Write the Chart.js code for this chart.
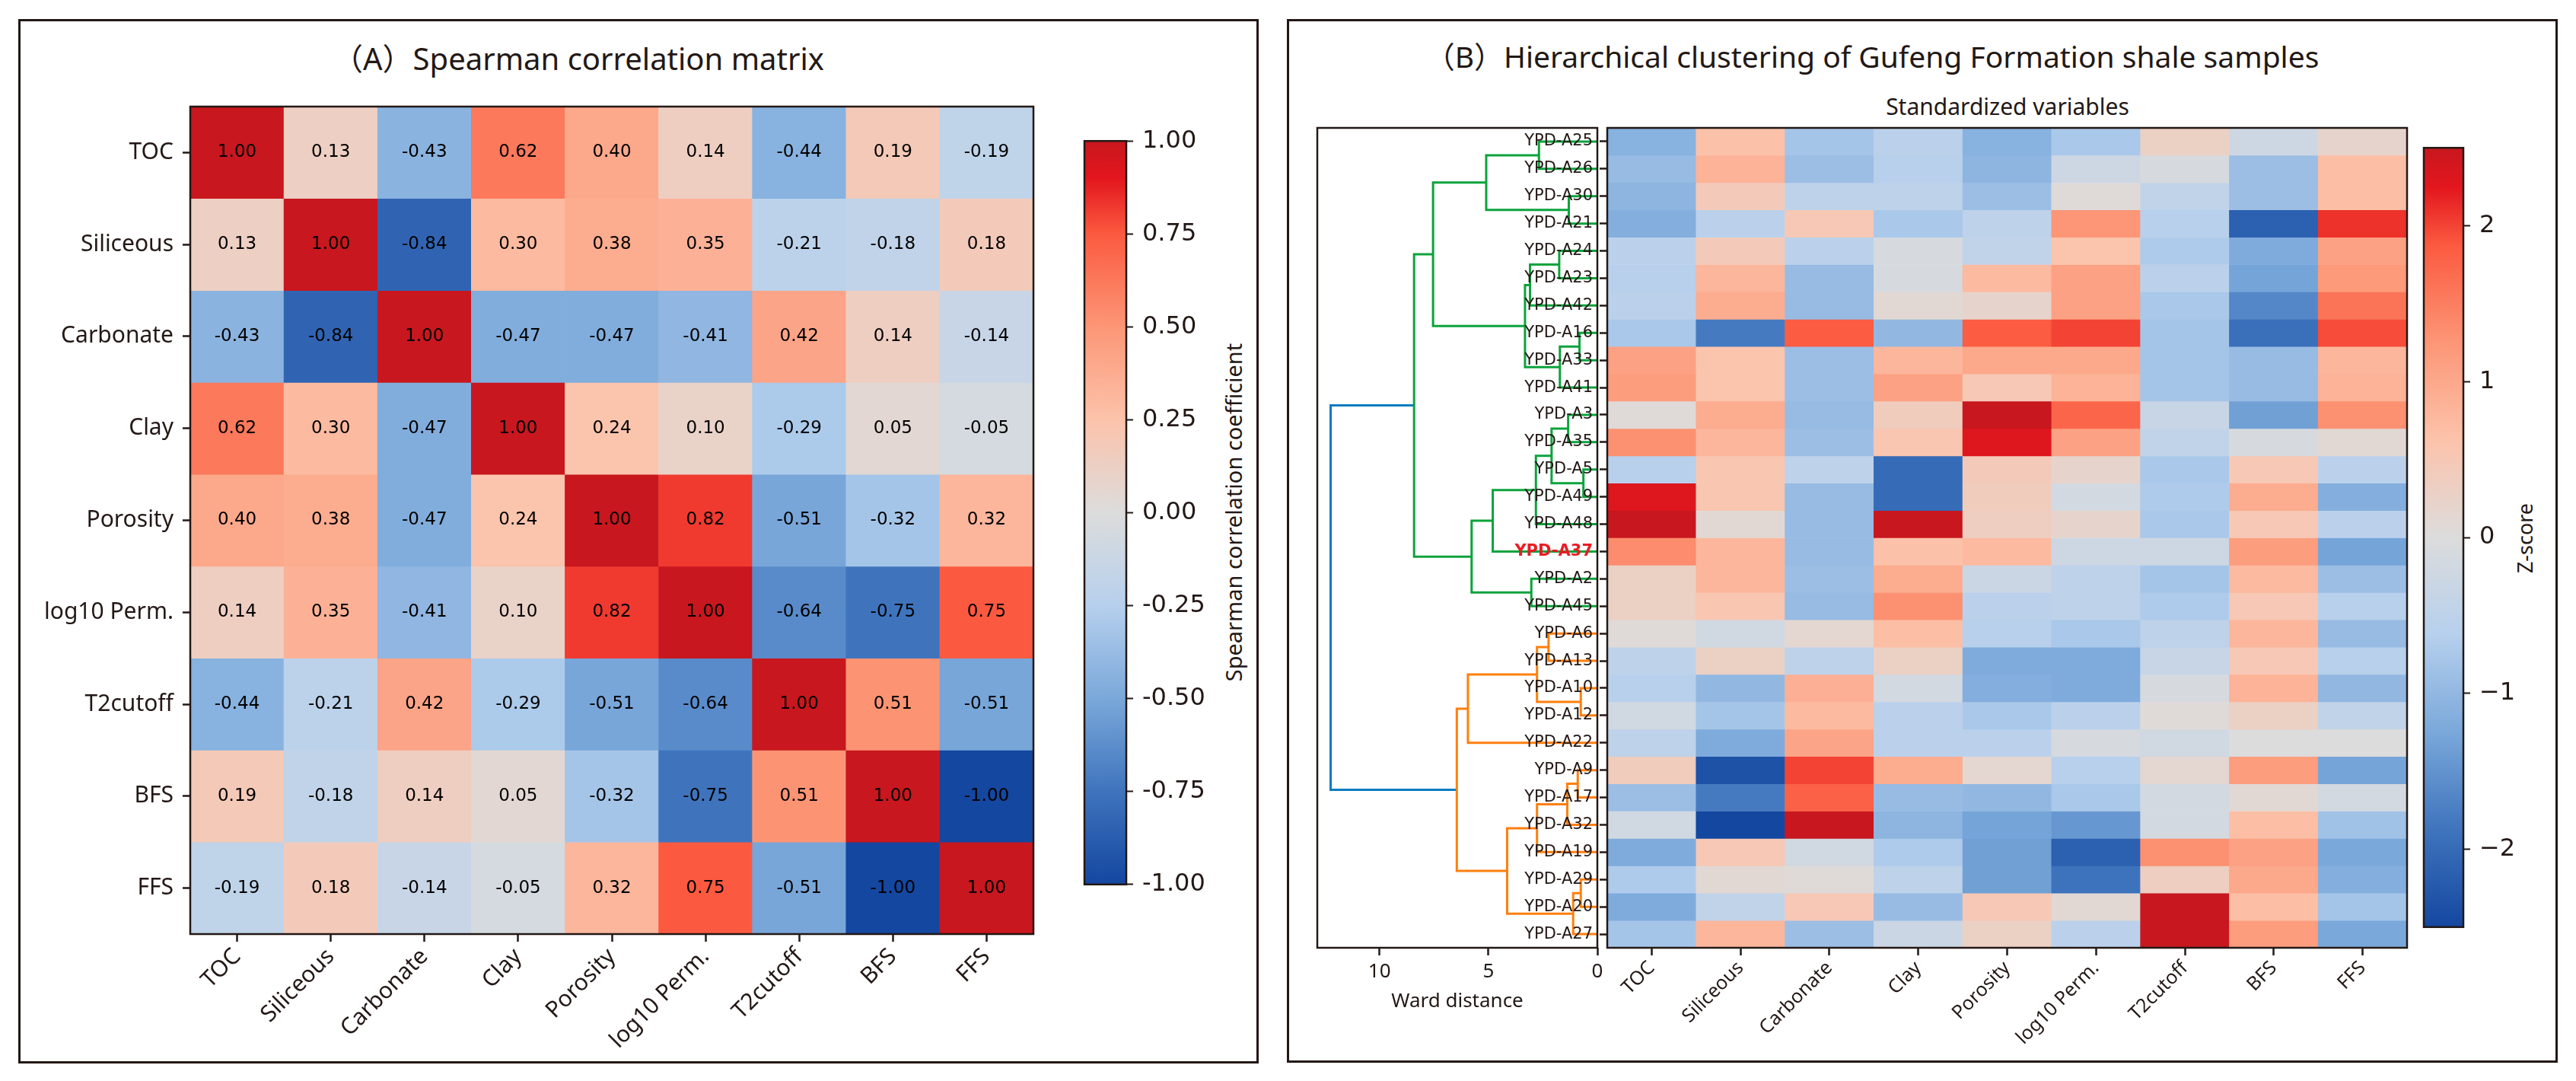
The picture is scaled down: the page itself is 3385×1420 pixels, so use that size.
<!DOCTYPE html>
<html lang="en">
<head>
<meta charset="utf-8">
<title>Spearman correlation matrix and hierarchical clustering</title>
<script src="https://cdn.jsdelivr.net/npm/chart.js@4.4.1/dist/chart.umd.min.js"></script>
<style>
  html, body { margin: 0; padding: 0; background: #fff; }
  body { position: relative; width: 3385px; height: 1420px; overflow: hidden;
         font-family: "Noto Sans", "Noto Sans CJK SC", sans-serif; color: #231815; }
  .frame { position: absolute; box-sizing: border-box; border: 3px solid #231815; }
  .box { position: absolute; }
  .label { position: absolute; white-space: nowrap; line-height: 1; transform: translate(-50%, -50%); }
  .label.vertical { transform: translate(-50%, -50%) rotate(-90deg); }
</style>
</head>
<body>

<div class="frame" style="left:24px;top:25px;width:1630px;height:1372px"></div>
<div class="frame" style="left:1691px;top:25px;width:1670px;height:1371px"></div>

<div class="label" style="left:760px;top:77px;font-size:40px">（A）Spearman correlation matrix</div>
<div class="label" style="left:2460px;top:73px;font-size:39px">（B）Hierarchical clustering of Gufeng Formation shale samples</div>
<div class="label" style="left:2638px;top:140px;font-size:30px">Standardized variables</div>
<div class="label vertical" style="left:1620px;top:673px;font-size:29px">Spearman correlation coefficient</div>
<div class="label vertical" style="left:3317px;top:707px;font-size:27px">Z-score</div>

<div class="box" style="left:40px;top:110px;width:1322px;height:1280px"><canvas id="chart-corr"></canvas></div>
<div class="box" style="left:1415px;top:154px;width:189px;height:1039px"><canvas id="chart-corr-bar"></canvas></div>
<div class="box" style="left:1711px;top:143px;width:408px;height:1188px;z-index:1"><canvas id="chart-dendro"></canvas></div>
<div class="box" style="left:1720px;top:143px;width:1449px;height:1247px;z-index:2"><canvas id="chart-zscore"></canvas></div>
<div class="box" style="left:3175px;top:163px;width:136px;height:1086px"><canvas id="chart-zscore-bar"></canvas></div>

<script>
// ═══════════════════════════════════════
// DATA
// ═══════════════════════════════════════
const corrVars = ['TOC', 'Siliceous', 'Carbonate', 'Clay', 'Porosity', 'log10 Perm.', 'T2cutoff', 'BFS', 'FFS'];
const corrMatrix = [
  [ 1.00,  0.13, -0.43,  0.62,  0.40,  0.14, -0.44,  0.19, -0.19],
  [ 0.13,  1.00, -0.84,  0.30,  0.38,  0.35, -0.21, -0.18,  0.18],
  [-0.43, -0.84,  1.00, -0.47, -0.47, -0.41,  0.42,  0.14, -0.14],
  [ 0.62,  0.30, -0.47,  1.00,  0.24,  0.10, -0.29,  0.05, -0.05],
  [ 0.40,  0.38, -0.47,  0.24,  1.00,  0.82, -0.51, -0.32,  0.32],
  [ 0.14,  0.35, -0.41,  0.10,  0.82,  1.00, -0.64, -0.75,  0.75],
  [-0.44, -0.21,  0.42, -0.29, -0.51, -0.64,  1.00,  0.51, -0.51],
  [ 0.19, -0.18,  0.14,  0.05, -0.32, -0.75,  0.51,  1.00, -1.00],
  [-0.19,  0.18, -0.14, -0.05,  0.32,  0.75, -0.51, -1.00,  1.00]
];
const corrTicks = [-1, -0.75, -0.5, -0.25, 0, 0.25, 0.5, 0.75, 1];

// samples in dendrogram leaf order, top to bottom
const samples = [
  'YPD-A25', 'YPD-A26', 'YPD-A30', 'YPD-A21', 'YPD-A24', 'YPD-A23', 'YPD-A42', 'YPD-A16',
  'YPD-A33', 'YPD-A41', 'YPD-A3', 'YPD-A35', 'YPD-A5', 'YPD-A49', 'YPD-A48', 'YPD-A37',
  'YPD-A2', 'YPD-A45', 'YPD-A6', 'YPD-A13', 'YPD-A10', 'YPD-A12', 'YPD-A22', 'YPD-A9',
  'YPD-A17', 'YPD-A32', 'YPD-A19', 'YPD-A29', 'YPD-A20', 'YPD-A27'
];
const highlightSample = 'YPD-A37';

// z-scores, one row per sample, columns as corrVars
const zScores = [
  [-1.10,  0.65, -0.80, -0.55, -1.10, -0.75,  0.30, -0.25,  0.20],
  [-0.95,  0.85, -0.90, -0.60, -1.05, -0.25, -0.10, -0.90,  0.70],
  [-1.05,  0.45, -0.50, -0.50, -0.90,  0.05, -0.45, -0.90,  0.70],
  [-1.15, -0.55,  0.50, -0.75, -0.50,  1.25, -0.60, -2.15,  2.10],
  [-0.55,  0.45, -0.55, -0.10, -0.45,  0.60, -0.70, -1.20,  1.10],
  [-0.60,  0.80, -0.95, -0.10,  0.75,  1.10, -0.55, -1.30,  1.20],
  [-0.55,  0.95, -0.95,  0.10,  0.20,  1.10, -0.75, -1.65,  1.60],
  [-0.75, -1.80,  1.85, -1.00,  1.85,  2.00, -0.80, -1.95,  1.95],
  [ 1.10,  0.60, -0.90,  0.80,  1.00,  1.00, -0.80, -0.95,  0.80],
  [ 1.15,  0.60, -0.90,  1.10,  0.50,  0.85, -0.80, -0.95,  0.85],
  [ 0.05,  0.95, -0.95,  0.40,  2.60,  1.75, -0.35, -1.35,  1.30],
  [ 1.30,  0.80, -0.90,  0.55,  2.30,  1.10, -0.45, -0.10,  0.10],
  [-0.60,  0.55, -0.50, -2.00,  0.45,  0.20, -0.75,  0.50, -0.55],
  [ 2.30,  0.55, -0.95, -2.00,  0.40, -0.15, -0.70,  0.95, -1.15],
  [ 2.55,  0.10, -0.95,  2.55,  0.35,  0.20, -0.75,  0.50, -0.55],
  [ 1.35,  0.80, -0.95,  0.65,  0.75, -0.25, -0.25,  1.15, -1.30],
  [ 0.30,  0.80, -0.90,  0.95, -0.30, -0.50, -0.80,  0.75, -0.90],
  [ 0.30,  0.55, -0.95,  1.30, -0.55, -0.50, -0.70,  0.50, -0.60],
  [ 0.05, -0.20,  0.15,  0.70, -0.60, -0.75, -0.50,  0.80, -0.95],
  [-0.50,  0.30, -0.50,  0.30, -1.20, -1.20, -0.35,  0.50, -0.60],
  [-0.60, -1.00,  0.90, -0.15, -1.15, -1.20, -0.10,  0.85, -1.00],
  [-0.20, -0.80,  0.75, -0.55, -0.75, -0.55,  0.05,  0.30, -0.45],
  [-0.50, -1.20,  1.05, -0.55, -0.55, -0.10, -0.20,  0.00,  0.00],
  [ 0.40, -2.35,  2.00,  0.95,  0.15, -0.60,  0.15,  1.15, -1.30],
  [-0.90, -1.80,  1.80, -0.95, -1.00, -0.75, -0.15,  0.10, -0.15],
  [-0.20, -2.55,  2.55, -1.05, -1.30, -1.45, -0.15,  0.70, -0.85],
  [-1.20,  0.50, -0.20, -0.70, -1.35, -2.15,  1.30,  1.10, -1.25],
  [-0.70,  0.10,  0.05, -0.50, -1.35, -1.90,  0.35,  1.00, -1.15],
  [-1.20, -0.45,  0.50, -0.95,  0.50,  0.10,  2.60,  0.70, -0.80],
  [-0.80,  0.80, -0.90, -0.30,  0.30, -0.55,  2.60,  1.15, -1.25]
];
const zTicks = [-2, -1, 0, 1, 2];

// Ward linkage: [child, child, merge distance]; merge k is referred to as 'm' + k
const merges = [
  ['YPD-A25', 'YPD-A26', 2.68],
  ['YPD-A30', 'YPD-A21', 1.31],
  ['m0', 'm1', 5.10],
  ['YPD-A24', 'YPD-A23', 1.75],
  ['m3', 'YPD-A42', 3.09],
  ['YPD-A16', 'YPD-A33', 0.82],
  ['m5', 'YPD-A41', 1.72],
  ['m4', 'm6', 3.32],
  ['m2', 'm7', 7.54],
  ['YPD-A3', 'YPD-A35', 1.34],
  ['YPD-A5', 'YPD-A49', 0.64],
  ['m9', 'm10', 2.10],
  ['m11', 'YPD-A48', 2.82],
  ['m12', 'YPD-A37', 4.80],
  ['YPD-A2', 'YPD-A45', 3.03],
  ['m13', 'm14', 5.77],
  ['m8', 'm15', 8.41],
  ['YPD-A6', 'YPD-A13', 2.24],
  ['YPD-A10', 'YPD-A12', 0.76],
  ['m17', 'm18', 2.77],
  ['m19', 'YPD-A22', 5.94],
  ['YPD-A9', 'YPD-A17', 0.90],
  ['m21', 'YPD-A32', 1.38],
  ['m22', 'YPD-A19', 2.77],
  ['YPD-A29', 'YPD-A20', 0.76],
  ['m24', 'YPD-A27', 1.11],
  ['m23', 'm25', 4.14],
  ['m20', 'm26', 6.45],
  ['m16', 'm27', 12.24]
];
const wardTicks = [0, 5, 10];

// ═══════════════════════════════════════
// STYLE
// ═══════════════════════════════════════
const INK = '#231815';
const HIGHLIGHT = '#ea1c24';
const CLUSTER_COLOURS = ['#ff7f0e', '#0ca33c'];
const ABOVE_COLOUR = '#0a7bbf';
const SCALE_STOPS = [
  [0.000, '#1447a0'], [0.125, '#3f74bd'], [0.250, '#7aa8da'], [0.375, '#b6d0ed'],
  [0.500, '#dcdcdc'], [0.625, '#fcc3ab'], [0.750, '#fc9676'], [0.875, '#fb5a40'],
  [0.950, '#e3161d'], [1.000, '#c8171e']
];

Chart.defaults.font.family = '"Noto Sans", "Noto Sans CJK SC", sans-serif';
Chart.defaults.color = INK;

// ═══════════════════════════════════════
// UTILITIES
// ═══════════════════════════════════════
function lerp(a, b, t) { return a + (b - a) * t; }
function hexToRgb(h) { const n = parseInt(h.slice(1), 16); return [n >> 16, (n >> 8) & 255, n & 255]; }
const STOP_RGB = SCALE_STOPS.map(([t, c]) => [t, hexToRgb(c)]);

function colourAt(t) {
  t = Math.min(1, Math.max(0, t));
  for (let i = 1; i < STOP_RGB.length; i++) {
    const [t1, c1] = STOP_RGB[i];
    if (t <= t1) {
      const [t0, c0] = STOP_RGB[i - 1];
      const f = (t - t0) / (t1 - t0);
      const c = c0.map((v, k) => Math.round(lerp(v, c1[k], f)));
      return `rgb(${c[0]},${c[1]},${c[2]})`;
    }
  }
  return SCALE_STOPS[SCALE_STOPS.length - 1][1];
}

const tickGrid = { drawOnChartArea: false, offset: false, tickLength: 10, tickWidth: 2.5, tickColor: INK };

// box round the plot area (all four spines)
const framePlugin = {
  id: 'frame',
  afterDraw(chart) {
    const { ctx, chartArea: a } = chart;
    ctx.save();
    ctx.strokeStyle = INK;
    ctx.lineWidth = 2.5;
    ctx.strokeRect(a.left, a.top, a.right - a.left, a.bottom - a.top);
    ctx.restore();
  }
};

// numbers printed in the correlation cells
const cellValuePlugin = {
  id: 'cellValues',
  afterDatasetsDraw(chart) {
    const { ctx } = chart;
    ctx.save();
    ctx.font = '23px "DejaVu Sans"';
    ctx.fillStyle = '#000';
    ctx.textAlign = 'center';
    ctx.textBaseline = 'middle';
    chart.data.datasets.forEach((ds, i) => {
      chart.getDatasetMeta(i).data.forEach((bar, j) => {
        const { x, y, base } = bar.getProps(['x', 'y', 'base'], true);
        ctx.fillText(corrMatrix[i][j].toFixed(2), x, (y + base) / 2);
      });
    });
    ctx.restore();
  }
};

// ═══════════════════════════════════════
// HEATMAP (floating bars, one dataset per row)
// ═══════════════════════════════════════
function heatmap(canvasId, cfg) {
  const { rows, cols, values, vmin, vmax, yWidth, xHeight, padding, xFont, yFont, yColor, yPad, extra } = cfg;
  return new Chart(document.getElementById(canvasId), {
    type: 'bar',
    data: {
      labels: cols,
      datasets: rows.map((r, i) => ({
        label: r,
        data: cols.map(() => [i, i + 1]),
        backgroundColor: values[i].map(v => colourAt((v - vmin) / (vmax - vmin))),
        borderWidth: 0,
        barPercentage: 1,
        categoryPercentage: 1,
        grouped: false
      }))
    },
    options: {
      animation: false,
      responsive: true,
      maintainAspectRatio: false,
      events: [],
      layout: { padding },
      plugins: { legend: { display: false }, tooltip: { enabled: false } },
      scales: {
        x: {
          grid: tickGrid,
          border: { display: false },
          ticks: { autoSkip: false, minRotation: 45, maxRotation: 45, padding: 2, font: xFont, color: INK },
          afterFit: s => { s.height = xHeight; }
        },
        y: {
          min: 0,
          max: rows.length,
          reverse: true,
          afterBuildTicks: s => { s.ticks = rows.map((_, i) => ({ value: i + 0.5 })); },
          grid: tickGrid,
          border: { display: false },
          ticks: { autoSkip: false, padding: yPad, font: yFont, color: yColor || INK, callback: (v, i) => rows[i] },
          afterFit: s => { s.width = yWidth; }
        }
      }
    },
    plugins: [framePlugin].concat(extra || [])
  });
}

// ═══════════════════════════════════════
// COLOURBAR (one floating bar with a gradient)
// ═══════════════════════════════════════
function colourbar(canvasId, vmin, vmax, ticks, fmt, yWidth) {
  return new Chart(document.getElementById(canvasId), {
    type: 'bar',
    data: {
      labels: [''],
      datasets: [{
        data: [[vmin, vmax]],
        borderWidth: 0,
        barPercentage: 1,
        categoryPercentage: 1,
        backgroundColor: ctx => {
          const chart = ctx.chart;
          const y = chart.scales.y;
          if (!chart.chartArea || !y) return INK;
          const g = chart.ctx.createLinearGradient(0, y.getPixelForValue(vmin), 0, y.getPixelForValue(vmax));
          SCALE_STOPS.forEach(([t, c]) => g.addColorStop(t, c));
          return g;
        }
      }]
    },
    options: {
      animation: false,
      responsive: true,
      maintainAspectRatio: false,
      events: [],
      layout: { padding: { left: 10, right: 4, top: 25, bottom: 25 } },
      plugins: { legend: { display: false }, tooltip: { enabled: false } },
      scales: {
        x: { display: false },
        y: {
          position: 'right',
          min: vmin,
          max: vmax,
          afterBuildTicks: s => { s.ticks = ticks.map(v => ({ value: v })); },
          grid: { drawOnChartArea: false, tickLength: 9, tickWidth: 2, tickColor: INK },
          border: { display: false },
          ticks: { padding: 12, font: { family: '"DejaVu Sans"', size: 32 }, color: INK, callback: fmt },
          afterFit: s => { s.width = yWidth; }
        }
      }
    },
    plugins: [framePlugin]
  });
}

// ═══════════════════════════════════════
// DENDROGRAM
// ═══════════════════════════════════════
function buildLinks() {
  const nodes = {};
  samples.forEach((s, i) => { nodes[s] = { y: i + 0.5, h: 0 }; });
  const links = merges.map(([a, b, h], k) => {
    const A = nodes[a], B = nodes[b];
    nodes['m' + k] = { y: (A.y + B.y) / 2, h, kids: [a, b], link: k };
    return {
      pts: [{ x: A.h, y: A.y }, { x: h, y: A.y }, { x: h, y: B.y }, { x: B.h, y: B.y }],
      colour: ABOVE_COLOUR
    };
  });
  const maxH = Math.max(...merges.map(m => m[2]));
  const threshold = 0.7 * maxH;
  let next = 0;
  // colour each cluster below the threshold, bottom cluster first
  (function paint(id, colour) {
    const n = nodes[id];
    if (!n.kids) return;
    if (!colour && n.h <= threshold) colour = CLUSTER_COLOURS[next++ % CLUSTER_COLOURS.length];
    links[n.link].colour = colour || ABOVE_COLOUR;
    n.kids.slice().reverse().forEach(k => paint(k, colour));
  })('m' + (merges.length - 1), null);
  return { links, maxH };
}

function dendrogram(canvasId) {
  const { links, maxH } = buildLinks();
  return new Chart(document.getElementById(canvasId), {
    type: 'scatter',
    data: {
      datasets: links.map(l => ({
        data: l.pts,
        showLine: true,
        borderColor: l.colour,
        borderWidth: 3,
        pointRadius: 0,
        fill: false,
        tension: 0
      }))
    },
    options: {
      animation: false,
      responsive: true,
      maintainAspectRatio: false,
      events: [],
      layout: { padding: { left: 20, right: 20, top: 25, bottom: 0 } },
      plugins: { legend: { display: false }, tooltip: { enabled: false } },
      scales: {
        x: {
          type: 'linear',
          min: 0,
          max: maxH * 1.05,
          reverse: true,
          afterBuildTicks: s => { s.ticks = wardTicks.map(v => ({ value: v })); },
          grid: tickGrid,
          border: { display: false },
          ticks: { padding: 6, font: { size: 26 }, color: INK },
          title: { display: true, text: 'Ward distance', font: { size: 26 }, color: INK, padding: 0 },
          afterFit: s => { s.height = 86; }
        },
        y: { type: 'linear', min: 0, max: samples.length, reverse: true, display: false }
      }
    },
    plugins: [framePlugin]
  });
}

// ═══════════════════════════════════════
// INIT
// ═══════════════════════════════════════
heatmap('chart-corr', {
  rows: corrVars, cols: corrVars, values: corrMatrix, vmin: -1, vmax: 1,
  yWidth: 210, xHeight: 163,
  padding: { left: 0, right: 4, top: 10, bottom: 0 },
  xFont: { size: 30 }, yFont: { size: 30 }, yPad: 12,
  extra: [cellValuePlugin]
});
colourbar('chart-corr-bar', -1, 1, corrTicks, v => v.toFixed(2), 120);

dendrogram('chart-dendro');
heatmap('chart-zscore', {
  rows: samples, cols: corrVars, values: zScores, vmin: -2.5, vmax: 2.5,
  yWidth: 392, xHeight: 145,
  padding: { left: 0, right: 6, top: 25, bottom: 0 },
  xFont: { size: 25 },
  yFont: ctx => ({ family: '"DejaVu Sans"', size: 21, weight: samples[ctx.index] === highlightSample ? 'bold' : 'normal' }),
  yColor: ctx => (samples[ctx.index] === highlightSample ? HIGHLIGHT : INK),
  yPad: 9
});
colourbar('chart-zscore-bar', -2.5, 2.5, zTicks, v => (v < 0 ? '\u2212' + Math.abs(v) : String(v)), 70);
</script>
</body>
</html>
